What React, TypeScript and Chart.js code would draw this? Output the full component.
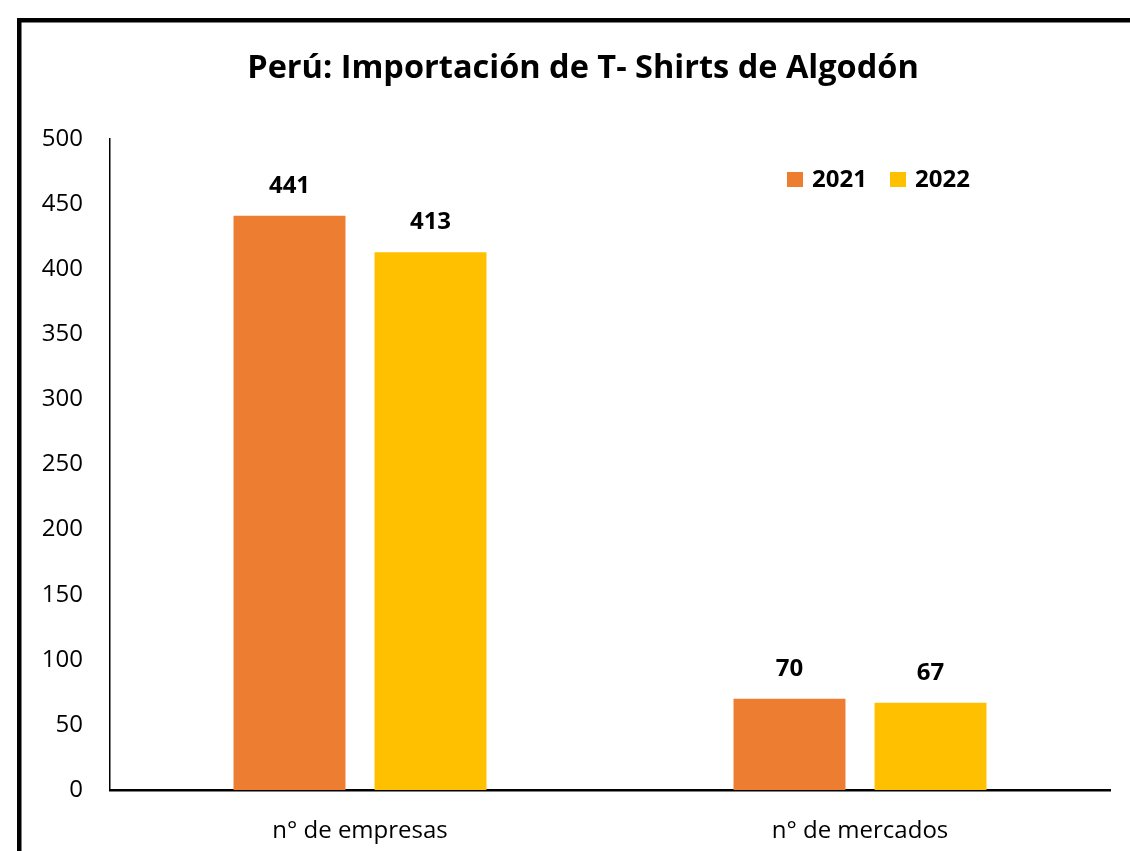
import React, { useEffect, useRef } from "react";
import { Chart, registerables } from "chart.js";

Chart.register(...registerables);

const titleText = "Perú: Importación de T- Shirts de Algodón";
const categories = ["n° de empresas", "n° de mercados"];
const seriesLabels = ["2021", "2022"];
const values2021 = [441, 70];
const values2022 = [413, 67];
const seriesColors = ["#ED7D31", "#FFC000"];
const yTicksMax = 500;
const yTickStep = 50;

const FONT = "'Open Sans', 'Noto Sans', sans-serif";

const decorPlugin = {
  id: "decor",
  beforeDraw(chart: any) {
    const ctx = chart.ctx;
    ctx.save();
    ctx.fillStyle = "#fff";
    ctx.fillRect(0, 0, chart.width, chart.height);
    ctx.fillStyle = "#000";
    ctx.fillRect(17, 18, 4.5, chart.height);
    ctx.fillRect(17, 18, chart.width, 4.5);
    ctx.restore();
  },
  afterDraw(chart: any) {
    const ctx = chart.ctx;
    const area = chart.chartArea;
    ctx.save();
    // title
    ctx.fillStyle = "#000";
    ctx.font = `bold 32.5px ${FONT}`;
    ctx.textAlign = "center";
    ctx.textBaseline = "alphabetic";
    ctx.fillText(titleText, 583, 78);
    // legend
    ctx.font = `bold 24px ${FONT}`;
    ctx.textAlign = "left";
    ctx.textBaseline = "middle";
    let x = area.right - 323;
    const y = 180;
    chart.data.datasets.forEach((ds: any) => {
      ctx.fillStyle = ds.backgroundColor;
      ctx.fillRect(x, y - 8, 16, 15);
      ctx.fillStyle = "#000";
      ctx.fillText(ds.label, x + 25, y);
      x += 103;
    });
    ctx.restore();
  },
  afterDatasetsDraw(chart: any) {
    const ctx = chart.ctx;
    ctx.save();
    ctx.fillStyle = "#000";
    ctx.font = `bold 24px ${FONT}`;
    ctx.textAlign = "center";
    ctx.textBaseline = "middle";
    chart.data.datasets.forEach((ds: any, i: number) => {
      const meta = chart.getDatasetMeta(i);
      meta.data.forEach((bar: any, j: number) => {
        ctx.fillText(String(ds.data[j]), bar.x, bar.y - 30);
      });
    });
    ctx.restore();
  },
};

export default function App() {
  const ref = useRef<HTMLCanvasElement | null>(null);

  useEffect(() => {
    document.body.style.margin = "0";
    document.body.style.overflow = "hidden";
    const chart = new Chart(ref.current as HTMLCanvasElement, {
      type: "bar",
      data: {
        labels: categories,
        datasets: [
          { label: seriesLabels[0], data: values2021, backgroundColor: seriesColors[0] },
          { label: seriesLabels[1], data: values2022, backgroundColor: seriesColors[1] },
        ],
      },
      options: {
        animation: false,
        responsive: false,
        maintainAspectRatio: false,
        layout: { padding: { top: 139, right: 20, left: 0, bottom: 0 } },
        datasets: {
          bar: { categoryPercentage: 0.564, barPercentage: 0.794 },
        },
        plugins: {
          legend: { display: false },
          title: { display: false },
          tooltip: { enabled: false },
        },
        scales: {
          x: {
            grid: { display: false },
            border: { display: true, color: "#000", width: 2.5 },
            ticks: { color: "#000", font: { family: FONT, size: 24 }, padding: 19 },
            afterFit(scale: any) {
              scale.height = 61;
            },
          },
          y: {
            min: 0,
            max: yTicksMax,
            grid: { display: false },
            border: { display: true, color: "#000", width: 1.5 },
            ticks: { stepSize: yTickStep, color: "#000", font: { family: FONT, size: 24 }, padding: 19 },
            afterFit(scale: any) {
              scale.width = 110;
            },
          },
        },
      },
      plugins: [decorPlugin],
    } as any);
    return () => chart.destroy();
  }, []);

  return (
    <div style={{ position: "fixed", left: 0, top: 0, width: 1130, height: 851 }}>
      <canvas ref={ref} width={1130} height={851} style={{ width: 1130, height: 851, display: "block" }} />
    </div>
  );
}
